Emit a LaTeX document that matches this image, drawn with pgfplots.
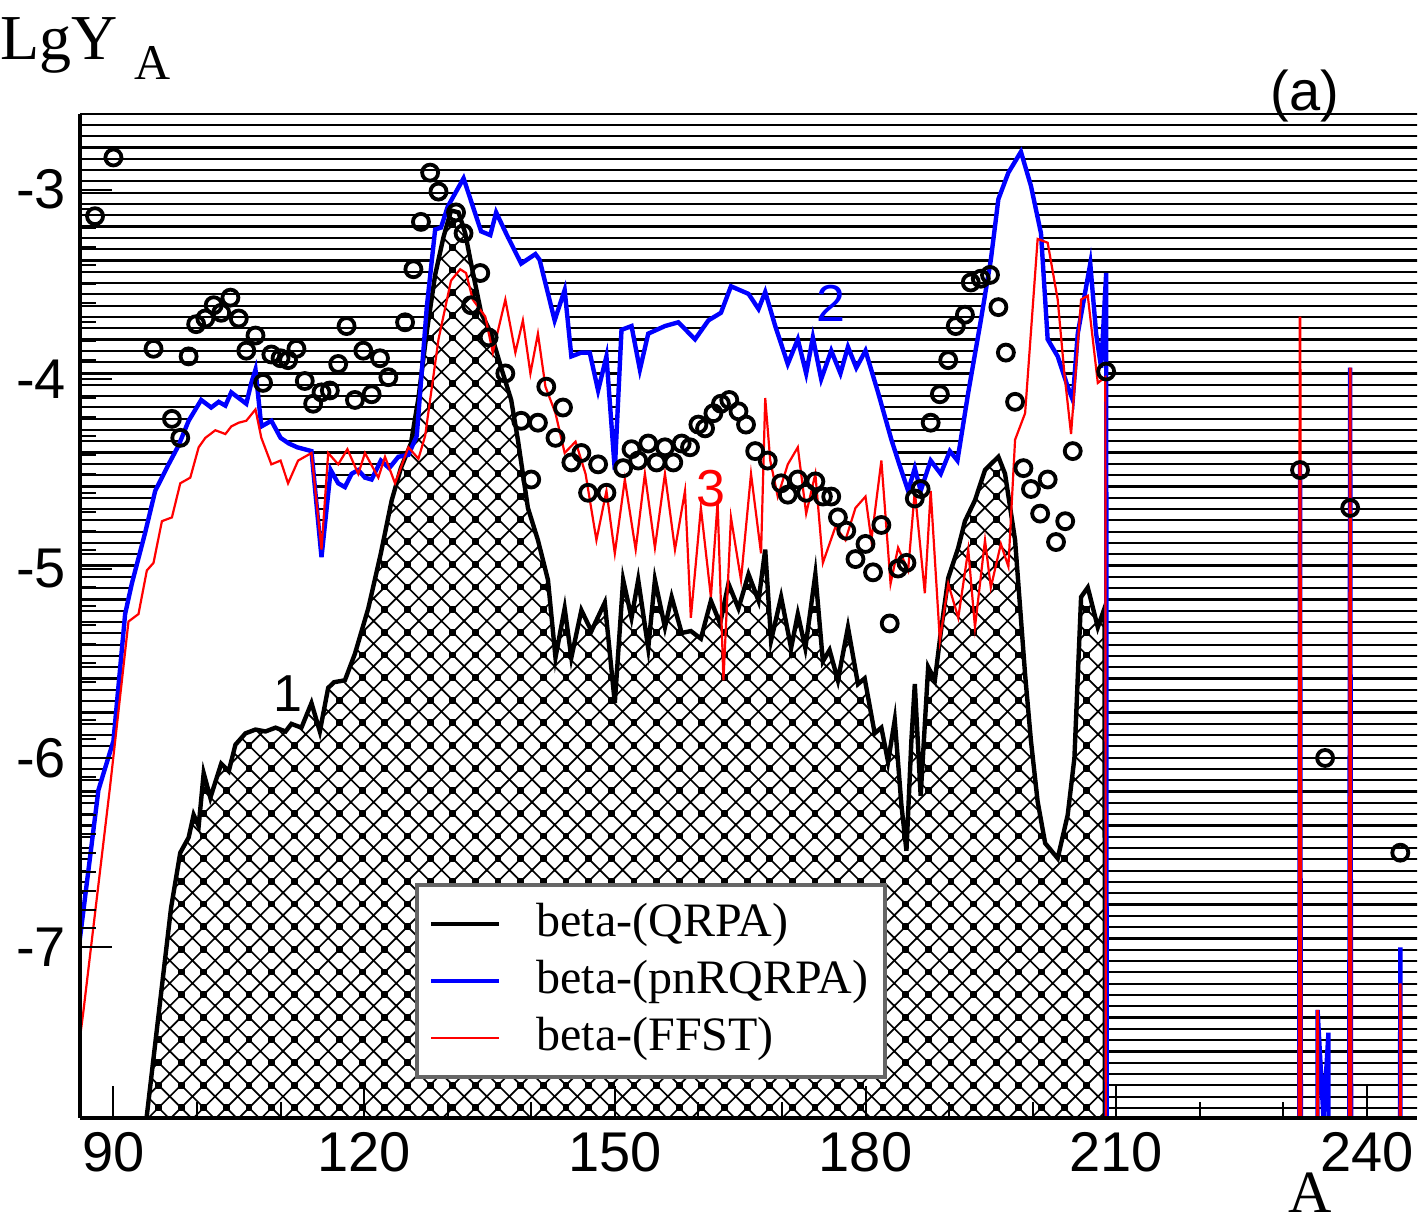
\documentclass[border=0pt]{standalone}
\usepackage{pgfplots}
\pgfplotsset{compat=1.18}
\usepackage{pgfplotstable}
\usepackage{fontspec}
\setmainfont{Liberation Serif}
\setsansfont{Liberation Sans}
\usetikzlibrary{patterns.meta}

% background hatching: thin horizontal lines
\tikzdeclarepattern{
  name=hlines,
  type=uncolored,
  bounding box={(-0.5pt,-0.4pt) and (10.5pt,0.4pt)},
  tile size={(10pt,2.825pt)},
  code={\draw[line width=0.55pt] (-0.5pt,0pt) -- (10.5pt,0pt);}
}
% diagonal crosshatch with dots for the area under curve 1
\tikzdeclarepattern{
  name=xdots,
  type=uncolored,
  bounding box={(-3.1pt,-3.1pt) and (3.1pt,3.1pt)},
  tile size={(5.66pt,5.66pt)},
  code={
    \draw[line width=0.42pt] (-3.1pt,-3.1pt) -- (3.1pt,3.1pt)
                             (-3.1pt,3.1pt) -- (3.1pt,-3.1pt);
    \fill (-0.85pt,-0.85pt) rectangle (0.85pt,0.85pt);
  }
}

% curve 1: beta- (QRPA)
\pgfplotstableread{
x y
93.7 -8.0
96.9 -6.79
98.0 -6.50
99.0 -6.42
99.6 -6.30
100.2 -6.36
100.8 -6.08
101.6 -6.21
102.9 -6.03
103.8 -6.07
104.6 -5.93
105.8 -5.87
107.0 -5.85
108.2 -5.86
109.4 -5.84
110.6 -5.86
111.3 -5.82
112.5 -5.84
113.7 -5.71
114.7 -5.86
115.7 -5.63
116.4 -5.60
117.7 -5.59
118.9 -5.45
120.5 -5.21
122.0 -4.92
123.3 -4.64
124.4 -4.47
125.6 -4.34
126.5 -4.10
127.5 -3.75
128.5 -3.45
129.5 -3.25
130.4 -3.11
131.3 -3.12
132.1 -3.23
132.8 -3.39
134.0 -3.65
135.2 -3.76
136.4 -3.94
137.6 -4.11
138.4 -4.32
139.6 -4.68
140.8 -4.85
142.0 -5.06
142.9 -5.47
144.0 -5.21
144.8 -5.47
146.0 -5.22
147.2 -5.33
148.8 -5.18
150.0 -5.71
151.0 -5.06
152.0 -5.26
152.8 -5.06
154.0 -5.42
154.8 -5.06
156.0 -5.31
156.8 -5.15
158.0 -5.34
159.1 -5.33
160.3 -5.37
161.5 -5.17
162.6 -5.29
163.6 -5.08
164.8 -5.21
166.0 -5.03
167.2 -5.17
168.0 -4.90
168.7 -5.38
169.9 -5.15
171.1 -5.42
171.9 -5.24
172.8 -5.42
174.0 -5.03
174.9 -5.49
175.7 -5.43
176.7 -5.59
177.9 -5.31
179.1 -5.61
179.9 -5.58
181.1 -5.87
181.9 -5.84
182.7 -6.02
183.5 -5.80
184.3 -6.25
184.9 -6.49
185.5 -5.90
185.9 -5.61
186.6 -6.20
187.5 -5.52
188.3 -5.59
189.0 -5.34
189.9 -5.05
191.1 -4.89
191.9 -4.75
193.1 -4.64
194.3 -4.48
195.9 -4.41
196.7 -4.50
197.9 -4.85
199.1 -5.56
199.8 -5.91
200.6 -6.23
201.5 -6.45
203.0 -6.53
204.2 -6.30
205.0 -6.00
205.8 -5.15
206.6 -5.10
207.8 -5.31
208.6 -5.21
209.3 -40
}\qrpa

% curve 2: beta- (pnRQRPA)
\pgfplotstableread{
x y
80.0 -9.0
86.0 -6.95
88.2 -6.17
90.0 -5.91
91.4 -5.24
92.2 -5.08
93.8 -4.81
95.0 -4.59
96.6 -4.45
97.8 -4.35
99.0 -4.22
100.5 -4.11
101.7 -4.15
102.6 -4.12
103.4 -4.14
104.1 -4.07
105.0 -4.10
105.9 -4.13
106.5 -4.02
107.0 -3.95
107.7 -4.25
108.9 -4.22
110.0 -4.31
111.0 -4.34
112.0 -4.36
113.7 -4.38
114.9 -4.94
116.0 -4.48
116.9 -4.55
117.7 -4.57
118.5 -4.50
119.3 -4.48
120.1 -4.52
120.9 -4.53
122.0 -4.43
123.0 -4.47
124.1 -4.41
125.3 -4.40
126.3 -4.30
127.5 -3.62
128.5 -3.21
129.2 -3.20
130.0 -3.09
131.9 -2.94
134.0 -3.22
135.1 -3.24
135.8 -3.12
137.2 -3.25
138.8 -3.39
140.5 -3.34
141.0 -3.37
142.8 -3.69
144.0 -3.53
144.8 -3.88
146.0 -3.86
147.0 -3.86
148.0 -4.06
149.0 -3.88
150.0 -4.48
150.8 -3.74
152.0 -3.72
153.0 -3.95
154.0 -3.76
156.0 -3.72
157.6 -3.70
159.6 -3.79
161.2 -3.69
162.7 -3.65
163.9 -3.51
166.0 -3.55
167.2 -3.63
168.0 -3.54
169.2 -3.72
170.7 -3.92
171.9 -3.79
172.9 -3.97
173.7 -3.78
174.7 -4.00
175.9 -3.85
177.0 -3.97
177.9 -3.83
178.9 -3.94
180.0 -3.85
181.5 -4.07
183.1 -4.32
183.9 -4.43
185.1 -4.59
185.9 -4.47
186.6 -4.59
187.8 -4.43
189.0 -4.50
190.1 -4.38
191.0 -4.43
192.3 -4.07
193.8 -3.69
195.0 -3.37
195.9 -3.05
197.1 -2.91
198.6 -2.80
199.8 -2.98
201.0 -3.23
201.8 -3.79
203.0 -3.88
204.2 -4.04
204.8 -4.11
205.4 -3.76
206.9 -3.39
207.6 -3.76
208.2 -3.94
208.8 -3.44
209.3 -40
}\pnrqrpa

% curve 3: beta- (FFST)
\pgfplotstableread{
x y
80.0 -9.5
86.4 -7.34
89.6 -6.15
91.8 -5.28
93.0 -5.24
94.0 -5.01
94.8 -4.97
95.8 -4.75
97.0 -4.73
98.0 -4.55
99.2 -4.52
100.2 -4.36
101.0 -4.31
102.2 -4.27
103.4 -4.29
104.1 -4.25
105.0 -4.23
105.9 -4.22
107.0 -4.16
107.7 -4.31
108.9 -4.45
110.0 -4.43
110.9 -4.55
112.1 -4.43
113.7 -4.39
114.9 -4.90
115.7 -4.39
116.9 -4.45
118.0 -4.37
119.3 -4.50
120.1 -4.39
121.7 -4.52
122.5 -4.41
123.7 -4.55
125.3 -4.36
126.5 -4.42
127.3 -4.30
128.9 -3.79
130.4 -3.48
131.5 -3.42
132.2 -3.44
133.0 -3.58
134.5 -3.67
135.4 -3.86
136.9 -3.58
138.1 -3.86
139.0 -3.69
139.9 -3.97
140.8 -3.76
141.7 -4.04
142.9 -4.18
144.0 -4.39
145.3 -4.33
146.5 -4.50
147.8 -4.85
149.0 -4.59
150.0 -4.92
151.2 -4.53
152.5 -4.90
153.6 -4.50
154.8 -4.89
156.0 -4.50
157.2 -4.90
158.4 -4.59
159.1 -5.26
160.3 -4.68
161.5 -5.15
162.3 -4.65
163.0 -5.59
163.9 -4.73
165.1 -5.06
166.3 -4.50
167.5 -4.92
168.0 -4.10
168.6 -4.43
169.5 -4.62
170.7 -4.45
171.9 -4.36
172.9 -4.71
174.0 -4.50
174.9 -4.97
176.4 -4.78
177.6 -4.85
178.8 -4.68
180.0 -4.62
180.7 -4.85
181.9 -4.43
183.0 -5.08
183.9 -4.89
185.1 -5.01
185.9 -4.59
187.1 -5.13
187.8 -4.59
188.9 -5.38
189.9 -5.08
191.1 -5.26
192.3 -4.90
193.1 -5.31
194.3 -4.85
195.0 -5.10
196.2 -4.87
197.1 -4.99
197.9 -4.32
199.1 -4.18
200.6 -3.26
201.8 -3.28
203.0 -3.58
203.8 -3.97
204.6 -4.29
205.8 -3.58
206.6 -3.56
207.8 -4.02
208.7 -3.99
209.3 -40
}\ffst

% heavy nuclei beyond A = 210
\pgfplotstableread{
x y
210 -40
231 -40
232 -4.45
233 -40
233.8 -40
234.1 -7.33
234.8 -7.9
235.4 -7.45
236.0 -40
237 -40
238 -3.94
239 -40
243 -40
244 -7.0
245 -40
}\pnrqrpaheavy

\pgfplotstableread{
x y
210 -40
231 -40
232 -3.67
233 -40
233.5 -40
234.1 -7.33
234.7 -40
237 -40
238 -3.94
239 -40
243 -40
244 -7.19
245 -40
}\ffstheavy

% experimental yields
\pgfplotstableread{
x y
87.8 -3.14
90.0 -2.83
94.8 -3.84
97.0 -4.21
98.0 -4.31
99.0 -3.88
99.9 -3.71
101.0 -3.68
102.0 -3.61
102.9 -3.65
104.0 -3.57
105.0 -3.68
105.9 -3.85
107.0 -3.77
107.9 -4.02
108.9 -3.87
110.0 -3.89
110.9 -3.90
111.9 -3.84
112.9 -4.01
113.9 -4.13
114.9 -4.07
115.9 -4.06
116.9 -3.92
117.9 -3.72
118.9 -4.11
119.9 -3.85
120.9 -4.08
121.9 -3.89
122.9 -3.99
124.9 -3.70
125.9 -3.42
126.8 -3.17
127.9 -2.91
128.9 -3.01
131.0 -3.12
131.9 -3.23
132.8 -3.61
133.9 -3.44
134.9 -3.78
136.9 -3.97
138.8 -4.22
140.0 -4.53
140.8 -4.23
141.8 -4.04
142.9 -4.31
143.8 -4.15
144.8 -4.44
146.0 -4.39
146.8 -4.60
148.0 -4.45
149.0 -4.60
151.0 -4.47
152.0 -4.37
152.8 -4.43
154.0 -4.34
155.0 -4.44
156.0 -4.36
157.0 -4.44
158.0 -4.34
159.0 -4.36
160.0 -4.24
160.8 -4.26
161.8 -4.18
162.7 -4.13
163.7 -4.11
164.8 -4.17
165.7 -4.24
166.8 -4.38
168.3 -4.43
169.9 -4.55
170.7 -4.61
171.9 -4.53
172.9 -4.60
174.0 -4.54
174.9 -4.62
175.9 -4.62
176.7 -4.73
177.7 -4.80
178.8 -4.95
180.0 -4.87
180.9 -5.02
181.9 -4.77
182.9 -5.29
183.9 -5.00
184.9 -4.97
185.9 -4.63
186.6 -4.58
187.8 -4.23
188.9 -4.08
189.9 -3.90
190.8 -3.72
191.9 -3.66
192.6 -3.49
193.8 -3.47
194.9 -3.45
195.9 -3.62
196.8 -3.86
197.9 -4.12
198.9 -4.47
199.8 -4.58
200.9 -4.71
201.8 -4.53
202.8 -4.86
203.9 -4.75
204.8 -4.38
208.8 -3.96
232.0 -4.48
235.0 -6.00
238.0 -4.68
244.0 -6.50
}\expyield

\begin{document}
\begin{tikzpicture}
\begin{axis}[
  scale only axis,
  width=334.25pt, height=251pt,
  xmin=86, xmax=246, ymin=-7.9, ymax=-2.6,
  axis x line*=bottom, axis y line*=left,
  axis line style={line width=1.1pt},
  xtick={90,120,...,240}, minor x tick num=2,
  ytick={-7,-6,...,-3}, minor y tick num=9,
  xtick pos=bottom, ytick pos=left,
  tick align=inside,
  major tick length=8pt, minor tick length=4pt,
  tick style={black, line width=0.5pt},
  ticklabel style={font=\fontsize{14}{14}\selectfont\sffamily},
  /pgf/number format/assume math mode=true,
  axis on top,
  axis background/.style={pattern=hlines, pattern color=black},
  legend cell align=left,
  legend style={at={(0.2506,0.234)}, anchor=north west,
    draw=black!60, line width=1pt, fill=white,
    font=\fontsize{12}{12}\selectfont,
    inner xsep=3pt, inner ysep=2.6pt, row sep=0pt,
    nodes={inner sep=1.25pt, text height=9pt, text depth=2.75pt},
    /tikz/every odd column/.append style={column sep=7.5pt}},
  legend image code/.code={\draw[#1] (0pt,0pt) -- (17pt,0pt);},
]
% white region below curve 2
\addplot[draw=none, fill=white, forget plot] table {\pnrqrpa} -- cycle;
% hatched region below curve 1
\addplot[draw=none, pattern=xdots, pattern color=black, forget plot] table {\qrpa} -- cycle;

\addplot[black, line width=1.1pt] table {\qrpa};
\addlegendentry{beta-(QRPA)}
\addplot[blue, line width=1.1pt] table {\pnrqrpa};
\addlegendentry{beta-(pnRQRPA)}
\addplot[red, line width=0.55pt] table {\ffst};
\addlegendentry{beta-(FFST)}

\addplot[blue, line width=1.1pt, forget plot] table {\pnrqrpaheavy};
\addplot[red, line width=0.7pt, forget plot] table {\ffstheavy};

\addplot[only marks, mark=o, mark size=2pt, mark options={line width=0.95pt, black}, forget plot] table {\expyield};

\node[font=\fontsize{13}{13}\selectfont\sffamily] at (axis cs:110.9,-5.66) {1};
\node[blue, font=\fontsize{13}{13}\selectfont\sffamily] at (axis cs:175.9,-3.60) {2};
\node[red, font=\fontsize{13}{13}\selectfont\sffamily] at (axis cs:161.5,-4.58) {3};
\end{axis}
\node[anchor=base west, inner sep=0pt, font=\fontsize{16}{16}\selectfont]
  at ([xshift=-20pt,yshift=13.5pt]current axis.north west)
  {LgY\hspace{4pt}\raisebox{-5pt}{\fontsize{12.5}{12.5}\selectfont A}};
\node[anchor=base east, inner sep=0pt, font=\fontsize{14}{14}\selectfont\sffamily]
  at ([xshift=-19.25pt,yshift=0.8pt]current axis.north east) {(a)};
\node[anchor=base, inner sep=0pt, font=\fontsize{15}{15}\selectfont]
  at ([xshift=-26.75pt,yshift=-23.6pt]current axis.south east) {A};
\pgfresetboundingbox
\path[use as bounding box]
  ([xshift=-20pt,yshift=-25.75pt]current axis.south west)
  rectangle ([xshift=0.75pt,yshift=28.5pt]current axis.north east);
\end{tikzpicture}
\end{document}
